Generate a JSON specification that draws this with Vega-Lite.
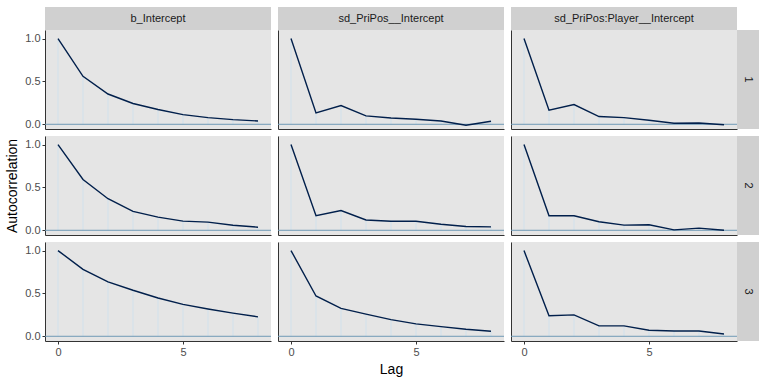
{
"$schema": "https://vega.github.io/schema/vega-lite/v6.json",
"padding": {"left": 5, "top": 7, "right": 5, "bottom": 5},
"datasets": {"acf": [
{"param":"b_Intercept","chain":1,"lag":0,"ac":1},{"param":"b_Intercept","chain":1,"lag":1,"ac":0.56},{"param":"b_Intercept","chain":1,"lag":2,"ac":0.353},{"param":"b_Intercept","chain":1,"lag":3,"ac":0.243},{"param":"b_Intercept","chain":1,"lag":4,"ac":0.172},{"param":"b_Intercept","chain":1,"lag":5,"ac":0.113},{"param":"b_Intercept","chain":1,"lag":6,"ac":0.078},{"param":"b_Intercept","chain":1,"lag":7,"ac":0.054},{"param":"b_Intercept","chain":1,"lag":8,"ac":0.039},
{"param":"sd_PriPos__Intercept","chain":1,"lag":0,"ac":1},{"param":"sd_PriPos__Intercept","chain":1,"lag":1,"ac":0.133},{"param":"sd_PriPos__Intercept","chain":1,"lag":2,"ac":0.219},{"param":"sd_PriPos__Intercept","chain":1,"lag":3,"ac":0.098},{"param":"sd_PriPos__Intercept","chain":1,"lag":4,"ac":0.074},{"param":"sd_PriPos__Intercept","chain":1,"lag":5,"ac":0.059},{"param":"sd_PriPos__Intercept","chain":1,"lag":6,"ac":0.039},{"param":"sd_PriPos__Intercept","chain":1,"lag":7,"ac":-0.012},{"param":"sd_PriPos__Intercept","chain":1,"lag":8,"ac":0.035},
{"param":"sd_PriPos:Player__Intercept","chain":1,"lag":0,"ac":1},{"param":"sd_PriPos:Player__Intercept","chain":1,"lag":1,"ac":0.165},{"param":"sd_PriPos:Player__Intercept","chain":1,"lag":2,"ac":0.23},{"param":"sd_PriPos:Player__Intercept","chain":1,"lag":3,"ac":0.09},{"param":"sd_PriPos:Player__Intercept","chain":1,"lag":4,"ac":0.078},{"param":"sd_PriPos:Player__Intercept","chain":1,"lag":5,"ac":0.047},{"param":"sd_PriPos:Player__Intercept","chain":1,"lag":6,"ac":0.012},{"param":"sd_PriPos:Player__Intercept","chain":1,"lag":7,"ac":0.015},{"param":"sd_PriPos:Player__Intercept","chain":1,"lag":8,"ac":-0.005},
{"param":"b_Intercept","chain":2,"lag":0,"ac":1},{"param":"b_Intercept","chain":2,"lag":1,"ac":0.593},{"param":"b_Intercept","chain":2,"lag":2,"ac":0.368},{"param":"b_Intercept","chain":2,"lag":3,"ac":0.221},{"param":"b_Intercept","chain":2,"lag":4,"ac":0.154},{"param":"b_Intercept","chain":2,"lag":5,"ac":0.107},{"param":"b_Intercept","chain":2,"lag":6,"ac":0.095},{"param":"b_Intercept","chain":2,"lag":7,"ac":0.059},{"param":"b_Intercept","chain":2,"lag":8,"ac":0.036},
{"param":"sd_PriPos__Intercept","chain":2,"lag":0,"ac":1},{"param":"sd_PriPos__Intercept","chain":2,"lag":1,"ac":0.17},{"param":"sd_PriPos__Intercept","chain":2,"lag":2,"ac":0.23},{"param":"sd_PriPos__Intercept","chain":2,"lag":3,"ac":0.12},{"param":"sd_PriPos__Intercept","chain":2,"lag":4,"ac":0.105},{"param":"sd_PriPos__Intercept","chain":2,"lag":5,"ac":0.105},{"param":"sd_PriPos__Intercept","chain":2,"lag":6,"ac":0.07},{"param":"sd_PriPos__Intercept","chain":2,"lag":7,"ac":0.045},{"param":"sd_PriPos__Intercept","chain":2,"lag":8,"ac":0.04},
{"param":"sd_PriPos:Player__Intercept","chain":2,"lag":0,"ac":1},{"param":"sd_PriPos:Player__Intercept","chain":2,"lag":1,"ac":0.17},{"param":"sd_PriPos:Player__Intercept","chain":2,"lag":2,"ac":0.17},{"param":"sd_PriPos:Player__Intercept","chain":2,"lag":3,"ac":0.1},{"param":"sd_PriPos:Player__Intercept","chain":2,"lag":4,"ac":0.06},{"param":"sd_PriPos:Player__Intercept","chain":2,"lag":5,"ac":0.065},{"param":"sd_PriPos:Player__Intercept","chain":2,"lag":6,"ac":0.005},{"param":"sd_PriPos:Player__Intercept","chain":2,"lag":7,"ac":0.025},{"param":"sd_PriPos:Player__Intercept","chain":2,"lag":8,"ac":0.0},
{"param":"b_Intercept","chain":3,"lag":0,"ac":1},{"param":"b_Intercept","chain":3,"lag":1,"ac":0.78},{"param":"b_Intercept","chain":3,"lag":2,"ac":0.635},{"param":"b_Intercept","chain":3,"lag":3,"ac":0.537},{"param":"b_Intercept","chain":3,"lag":4,"ac":0.447},{"param":"b_Intercept","chain":3,"lag":5,"ac":0.372},{"param":"b_Intercept","chain":3,"lag":6,"ac":0.318},{"param":"b_Intercept","chain":3,"lag":7,"ac":0.27},{"param":"b_Intercept","chain":3,"lag":8,"ac":0.227},
{"param":"sd_PriPos__Intercept","chain":3,"lag":0,"ac":1},{"param":"sd_PriPos__Intercept","chain":3,"lag":1,"ac":0.47},{"param":"sd_PriPos__Intercept","chain":3,"lag":2,"ac":0.325},{"param":"sd_PriPos__Intercept","chain":3,"lag":3,"ac":0.259},{"param":"sd_PriPos__Intercept","chain":3,"lag":4,"ac":0.195},{"param":"sd_PriPos__Intercept","chain":3,"lag":5,"ac":0.145},{"param":"sd_PriPos__Intercept","chain":3,"lag":6,"ac":0.113},{"param":"sd_PriPos__Intercept","chain":3,"lag":7,"ac":0.082},{"param":"sd_PriPos__Intercept","chain":3,"lag":8,"ac":0.059},
{"param":"sd_PriPos:Player__Intercept","chain":3,"lag":0,"ac":1},{"param":"sd_PriPos:Player__Intercept","chain":3,"lag":1,"ac":0.239},{"param":"sd_PriPos:Player__Intercept","chain":3,"lag":2,"ac":0.25},{"param":"sd_PriPos:Player__Intercept","chain":3,"lag":3,"ac":0.121},{"param":"sd_PriPos:Player__Intercept","chain":3,"lag":4,"ac":0.121},{"param":"sd_PriPos:Player__Intercept","chain":3,"lag":5,"ac":0.071},{"param":"sd_PriPos:Player__Intercept","chain":3,"lag":6,"ac":0.062},{"param":"sd_PriPos:Player__Intercept","chain":3,"lag":7,"ac":0.062},{"param":"sd_PriPos:Player__Intercept","chain":3,"lag":8,"ac":0.027}
]},
"columns": 6,
"spacing": 0,
"bounds": "flush",
"concat": [
{"width":226,"height":23,"view":{"fill":"#d0d0d0"},"data":{"values":[{"label":"b_Intercept"}]},"mark":{"type":"text","fontSize":11,"color":"#1a1a1a"},"encoding":{"text":{"field":"label"}}},
{"width":7,"height":7,"data":{"values":[]},"mark":{"type":"point","opacity":0}},
{"width":226,"height":23,"view":{"fill":"#d0d0d0"},"data":{"values":[{"label":"sd_PriPos__Intercept"}]},"mark":{"type":"text","fontSize":11,"color":"#1a1a1a"},"encoding":{"text":{"field":"label"}}},
{"width":7,"height":7,"data":{"values":[]},"mark":{"type":"point","opacity":0}},
{"width":226,"height":23,"view":{"fill":"#d0d0d0"},"data":{"values":[{"label":"sd_PriPos:Player__Intercept"}]},"mark":{"type":"text","fontSize":11,"color":"#1a1a1a"},"encoding":{"text":{"field":"label"}}},
{"width":7,"height":7,"data":{"values":[]},"mark":{"type":"point","opacity":0}},

{"width":226,"height":99,"view":{"fill":"#e5e5e5"},"data":{"name":"acf"},"transform":[{"filter":"datum.param === 'b_Intercept' && datum.chain === 1"}],
 "layer":[
  {"mark":{"type":"rule","color":"#d1e1ec","strokeWidth":1},"encoding":{"x":{"field":"lag","type":"quantitative","scale":{"domain":[-0.52,8.52],"nice":false,"zero":false},"axis":{"labels":false,"ticks":false,"title":null}},"y":{"field":"ac","type":"quantitative","scale":{"domain":[-0.055,1.1],"nice":false,"zero":false},"axis":{"values":[0,0.5,1],"format":".1f","title":null}},"y2":{"datum":0}}},
  {"transform":[{"aggregate":[{"op":"count","as":"n"}]}],"mark":{"type":"rule","color":"#6f9ab6","strokeWidth":1},"encoding":{"y":{"datum":0,"type":"quantitative","scale":{"domain":[-0.055,1.1],"nice":false,"zero":false},"axis":{"values":[0,0.5,1],"format":".1f","title":null}}}},
  {"mark":{"type":"line","color":"#011f4b","strokeWidth":1.4},"encoding":{"x":{"field":"lag","type":"quantitative","scale":{"domain":[-0.52,8.52],"nice":false,"zero":false},"axis":{"labels":false,"ticks":false,"title":null}},"y":{"field":"ac","type":"quantitative","scale":{"domain":[-0.055,1.1],"nice":false,"zero":false},"axis":{"values":[0,0.5,1],"format":".1f","title":null}}}}
 ]},
{"width":7,"height":7,"data":{"values":[]},"mark":{"type":"point","opacity":0}},
{"width":226,"height":99,"view":{"fill":"#e5e5e5"},"data":{"name":"acf"},"transform":[{"filter":"datum.param === 'sd_PriPos__Intercept' && datum.chain === 1"}],
 "layer":[
  {"mark":{"type":"rule","color":"#d1e1ec","strokeWidth":1},"encoding":{"x":{"field":"lag","type":"quantitative","scale":{"domain":[-0.52,8.52],"nice":false,"zero":false},"axis":{"labels":false,"ticks":false,"title":null}},"y":{"field":"ac","type":"quantitative","scale":{"domain":[-0.055,1.1],"nice":false,"zero":false},"axis":{"labels":false,"ticks":false,"title":null}},"y2":{"datum":0}}},
  {"transform":[{"aggregate":[{"op":"count","as":"n"}]}],"mark":{"type":"rule","color":"#6f9ab6","strokeWidth":1},"encoding":{"y":{"datum":0,"type":"quantitative","scale":{"domain":[-0.055,1.1],"nice":false,"zero":false},"axis":{"labels":false,"ticks":false,"title":null}}}},
  {"mark":{"type":"line","color":"#011f4b","strokeWidth":1.4},"encoding":{"x":{"field":"lag","type":"quantitative","scale":{"domain":[-0.52,8.52],"nice":false,"zero":false},"axis":{"labels":false,"ticks":false,"title":null}},"y":{"field":"ac","type":"quantitative","scale":{"domain":[-0.055,1.1],"nice":false,"zero":false},"axis":{"labels":false,"ticks":false,"title":null}}}}
 ]},
{"width":7,"height":7,"data":{"values":[]},"mark":{"type":"point","opacity":0}},
{"width":226,"height":99,"view":{"fill":"#e5e5e5"},"data":{"name":"acf"},"transform":[{"filter":"datum.param === 'sd_PriPos:Player__Intercept' && datum.chain === 1"}],
 "layer":[
  {"mark":{"type":"rule","color":"#d1e1ec","strokeWidth":1},"encoding":{"x":{"field":"lag","type":"quantitative","scale":{"domain":[-0.52,8.52],"nice":false,"zero":false},"axis":{"labels":false,"ticks":false,"title":null}},"y":{"field":"ac","type":"quantitative","scale":{"domain":[-0.055,1.1],"nice":false,"zero":false},"axis":{"labels":false,"ticks":false,"title":null}},"y2":{"datum":0}}},
  {"transform":[{"aggregate":[{"op":"count","as":"n"}]}],"mark":{"type":"rule","color":"#6f9ab6","strokeWidth":1},"encoding":{"y":{"datum":0,"type":"quantitative","scale":{"domain":[-0.055,1.1],"nice":false,"zero":false},"axis":{"labels":false,"ticks":false,"title":null}}}},
  {"mark":{"type":"line","color":"#011f4b","strokeWidth":1.4},"encoding":{"x":{"field":"lag","type":"quantitative","scale":{"domain":[-0.52,8.52],"nice":false,"zero":false},"axis":{"labels":false,"ticks":false,"title":null}},"y":{"field":"ac","type":"quantitative","scale":{"domain":[-0.055,1.1],"nice":false,"zero":false},"axis":{"labels":false,"ticks":false,"title":null}}}}
 ]},
{"width":22,"height":99,"view":{"fill":"#d0d0d0"},"data":{"values":[{"label":"1"}]},"mark":{"type":"text","fontSize":11,"color":"#1a1a1a","angle":90},"encoding":{"text":{"field":"label"}}},

{"width":7,"height":7,"data":{"values":[]},"mark":{"type":"point","opacity":0}},
{"width":7,"height":7,"data":{"values":[]},"mark":{"type":"point","opacity":0}},
{"width":7,"height":7,"data":{"values":[]},"mark":{"type":"point","opacity":0}},
{"width":7,"height":7,"data":{"values":[]},"mark":{"type":"point","opacity":0}},
{"width":7,"height":7,"data":{"values":[]},"mark":{"type":"point","opacity":0}},
{"width":7,"height":7,"data":{"values":[]},"mark":{"type":"point","opacity":0}},

{"width":226,"height":99,"view":{"fill":"#e5e5e5"},"data":{"name":"acf"},"transform":[{"filter":"datum.param === 'b_Intercept' && datum.chain === 2"}],
 "layer":[
  {"mark":{"type":"rule","color":"#d1e1ec","strokeWidth":1},"encoding":{"x":{"field":"lag","type":"quantitative","scale":{"domain":[-0.52,8.52],"nice":false,"zero":false},"axis":{"labels":false,"ticks":false,"title":null}},"y":{"field":"ac","type":"quantitative","scale":{"domain":[-0.055,1.1],"nice":false,"zero":false},"axis":{"values":[0,0.5,1],"format":".1f","title":"Autocorrelation"}},"y2":{"datum":0}}},
  {"transform":[{"aggregate":[{"op":"count","as":"n"}]}],"mark":{"type":"rule","color":"#6f9ab6","strokeWidth":1},"encoding":{"y":{"datum":0,"type":"quantitative","scale":{"domain":[-0.055,1.1],"nice":false,"zero":false},"axis":{"values":[0,0.5,1],"format":".1f","title":"Autocorrelation"}}}},
  {"mark":{"type":"line","color":"#011f4b","strokeWidth":1.4},"encoding":{"x":{"field":"lag","type":"quantitative","scale":{"domain":[-0.52,8.52],"nice":false,"zero":false},"axis":{"labels":false,"ticks":false,"title":null}},"y":{"field":"ac","type":"quantitative","scale":{"domain":[-0.055,1.1],"nice":false,"zero":false},"axis":{"values":[0,0.5,1],"format":".1f","title":"Autocorrelation"}}}}
 ]},
{"width":7,"height":7,"data":{"values":[]},"mark":{"type":"point","opacity":0}},
{"width":226,"height":99,"view":{"fill":"#e5e5e5"},"data":{"name":"acf"},"transform":[{"filter":"datum.param === 'sd_PriPos__Intercept' && datum.chain === 2"}],
 "layer":[
  {"mark":{"type":"rule","color":"#d1e1ec","strokeWidth":1},"encoding":{"x":{"field":"lag","type":"quantitative","scale":{"domain":[-0.52,8.52],"nice":false,"zero":false},"axis":{"labels":false,"ticks":false,"title":null}},"y":{"field":"ac","type":"quantitative","scale":{"domain":[-0.055,1.1],"nice":false,"zero":false},"axis":{"labels":false,"ticks":false,"title":null}},"y2":{"datum":0}}},
  {"transform":[{"aggregate":[{"op":"count","as":"n"}]}],"mark":{"type":"rule","color":"#6f9ab6","strokeWidth":1},"encoding":{"y":{"datum":0,"type":"quantitative","scale":{"domain":[-0.055,1.1],"nice":false,"zero":false},"axis":{"labels":false,"ticks":false,"title":null}}}},
  {"mark":{"type":"line","color":"#011f4b","strokeWidth":1.4},"encoding":{"x":{"field":"lag","type":"quantitative","scale":{"domain":[-0.52,8.52],"nice":false,"zero":false},"axis":{"labels":false,"ticks":false,"title":null}},"y":{"field":"ac","type":"quantitative","scale":{"domain":[-0.055,1.1],"nice":false,"zero":false},"axis":{"labels":false,"ticks":false,"title":null}}}}
 ]},
{"width":7,"height":7,"data":{"values":[]},"mark":{"type":"point","opacity":0}},
{"width":226,"height":99,"view":{"fill":"#e5e5e5"},"data":{"name":"acf"},"transform":[{"filter":"datum.param === 'sd_PriPos:Player__Intercept' && datum.chain === 2"}],
 "layer":[
  {"mark":{"type":"rule","color":"#d1e1ec","strokeWidth":1},"encoding":{"x":{"field":"lag","type":"quantitative","scale":{"domain":[-0.52,8.52],"nice":false,"zero":false},"axis":{"labels":false,"ticks":false,"title":null}},"y":{"field":"ac","type":"quantitative","scale":{"domain":[-0.055,1.1],"nice":false,"zero":false},"axis":{"labels":false,"ticks":false,"title":null}},"y2":{"datum":0}}},
  {"transform":[{"aggregate":[{"op":"count","as":"n"}]}],"mark":{"type":"rule","color":"#6f9ab6","strokeWidth":1},"encoding":{"y":{"datum":0,"type":"quantitative","scale":{"domain":[-0.055,1.1],"nice":false,"zero":false},"axis":{"labels":false,"ticks":false,"title":null}}}},
  {"mark":{"type":"line","color":"#011f4b","strokeWidth":1.4},"encoding":{"x":{"field":"lag","type":"quantitative","scale":{"domain":[-0.52,8.52],"nice":false,"zero":false},"axis":{"labels":false,"ticks":false,"title":null}},"y":{"field":"ac","type":"quantitative","scale":{"domain":[-0.055,1.1],"nice":false,"zero":false},"axis":{"labels":false,"ticks":false,"title":null}}}}
 ]},
{"width":22,"height":99,"view":{"fill":"#d0d0d0"},"data":{"values":[{"label":"2"}]},"mark":{"type":"text","fontSize":11,"color":"#1a1a1a","angle":90},"encoding":{"text":{"field":"label"}}},

{"width":7,"height":7,"data":{"values":[]},"mark":{"type":"point","opacity":0}},
{"width":7,"height":7,"data":{"values":[]},"mark":{"type":"point","opacity":0}},
{"width":7,"height":7,"data":{"values":[]},"mark":{"type":"point","opacity":0}},
{"width":7,"height":7,"data":{"values":[]},"mark":{"type":"point","opacity":0}},
{"width":7,"height":7,"data":{"values":[]},"mark":{"type":"point","opacity":0}},
{"width":7,"height":7,"data":{"values":[]},"mark":{"type":"point","opacity":0}},

{"width":226,"height":99,"view":{"fill":"#e5e5e5"},"data":{"name":"acf"},"transform":[{"filter":"datum.param === 'b_Intercept' && datum.chain === 3"}],
 "layer":[
  {"mark":{"type":"rule","color":"#d1e1ec","strokeWidth":1},"encoding":{"x":{"field":"lag","type":"quantitative","scale":{"domain":[-0.52,8.52],"nice":false,"zero":false},"axis":{"values":[0,5],"title":null}},"y":{"field":"ac","type":"quantitative","scale":{"domain":[-0.055,1.1],"nice":false,"zero":false},"axis":{"values":[0,0.5,1],"format":".1f","title":null}},"y2":{"datum":0}}},
  {"transform":[{"aggregate":[{"op":"count","as":"n"}]}],"mark":{"type":"rule","color":"#6f9ab6","strokeWidth":1},"encoding":{"y":{"datum":0,"type":"quantitative","scale":{"domain":[-0.055,1.1],"nice":false,"zero":false},"axis":{"values":[0,0.5,1],"format":".1f","title":null}}}},
  {"mark":{"type":"line","color":"#011f4b","strokeWidth":1.4},"encoding":{"x":{"field":"lag","type":"quantitative","scale":{"domain":[-0.52,8.52],"nice":false,"zero":false},"axis":{"values":[0,5],"title":null}},"y":{"field":"ac","type":"quantitative","scale":{"domain":[-0.055,1.1],"nice":false,"zero":false},"axis":{"values":[0,0.5,1],"format":".1f","title":null}}}}
 ]},
{"width":7,"height":7,"data":{"values":[]},"mark":{"type":"point","opacity":0}},
{"width":226,"height":99,"view":{"fill":"#e5e5e5"},"data":{"name":"acf"},"transform":[{"filter":"datum.param === 'sd_PriPos__Intercept' && datum.chain === 3"}],
 "layer":[
  {"mark":{"type":"rule","color":"#d1e1ec","strokeWidth":1},"encoding":{"x":{"field":"lag","type":"quantitative","scale":{"domain":[-0.52,8.52],"nice":false,"zero":false},"axis":{"values":[0,5],"title":"Lag"}},"y":{"field":"ac","type":"quantitative","scale":{"domain":[-0.055,1.1],"nice":false,"zero":false},"axis":{"labels":false,"ticks":false,"title":null}},"y2":{"datum":0}}},
  {"transform":[{"aggregate":[{"op":"count","as":"n"}]}],"mark":{"type":"rule","color":"#6f9ab6","strokeWidth":1},"encoding":{"y":{"datum":0,"type":"quantitative","scale":{"domain":[-0.055,1.1],"nice":false,"zero":false},"axis":{"labels":false,"ticks":false,"title":null}}}},
  {"mark":{"type":"line","color":"#011f4b","strokeWidth":1.4},"encoding":{"x":{"field":"lag","type":"quantitative","scale":{"domain":[-0.52,8.52],"nice":false,"zero":false},"axis":{"values":[0,5],"title":"Lag"}},"y":{"field":"ac","type":"quantitative","scale":{"domain":[-0.055,1.1],"nice":false,"zero":false},"axis":{"labels":false,"ticks":false,"title":null}}}}
 ]},
{"width":7,"height":7,"data":{"values":[]},"mark":{"type":"point","opacity":0}},
{"width":226,"height":99,"view":{"fill":"#e5e5e5"},"data":{"name":"acf"},"transform":[{"filter":"datum.param === 'sd_PriPos:Player__Intercept' && datum.chain === 3"}],
 "layer":[
  {"mark":{"type":"rule","color":"#d1e1ec","strokeWidth":1},"encoding":{"x":{"field":"lag","type":"quantitative","scale":{"domain":[-0.52,8.52],"nice":false,"zero":false},"axis":{"values":[0,5],"title":null}},"y":{"field":"ac","type":"quantitative","scale":{"domain":[-0.055,1.1],"nice":false,"zero":false},"axis":{"labels":false,"ticks":false,"title":null}},"y2":{"datum":0}}},
  {"transform":[{"aggregate":[{"op":"count","as":"n"}]}],"mark":{"type":"rule","color":"#6f9ab6","strokeWidth":1},"encoding":{"y":{"datum":0,"type":"quantitative","scale":{"domain":[-0.055,1.1],"nice":false,"zero":false},"axis":{"labels":false,"ticks":false,"title":null}}}},
  {"mark":{"type":"line","color":"#011f4b","strokeWidth":1.4},"encoding":{"x":{"field":"lag","type":"quantitative","scale":{"domain":[-0.52,8.52],"nice":false,"zero":false},"axis":{"values":[0,5],"title":null}},"y":{"field":"ac","type":"quantitative","scale":{"domain":[-0.055,1.1],"nice":false,"zero":false},"axis":{"labels":false,"ticks":false,"title":null}}}}
 ]},
{"width":22,"height":99,"view":{"fill":"#d0d0d0"},"data":{"values":[{"label":"3"}]},"mark":{"type":"text","fontSize":11,"color":"#1a1a1a","angle":90},"encoding":{"text":{"field":"label"}}}
],
"config": {
  "font": "Liberation Sans",
  "view": {"stroke": null},
  "text": {"font": "Liberation Sans"},
  "axis": {"grid": false, "domainColor": "#333333", "domainWidth": 1, "tickColor": "#333333", "tickSize": 3, "labelColor": "#4d4d4d", "labelFontSize": 11, "labelFont": "Liberation Sans", "labelPadding": 2, "titleFont": "Liberation Sans", "titleFontSize": 14, "titleFontWeight": "normal", "titleColor": "#000000", "titlePadding": 5}
}
}
